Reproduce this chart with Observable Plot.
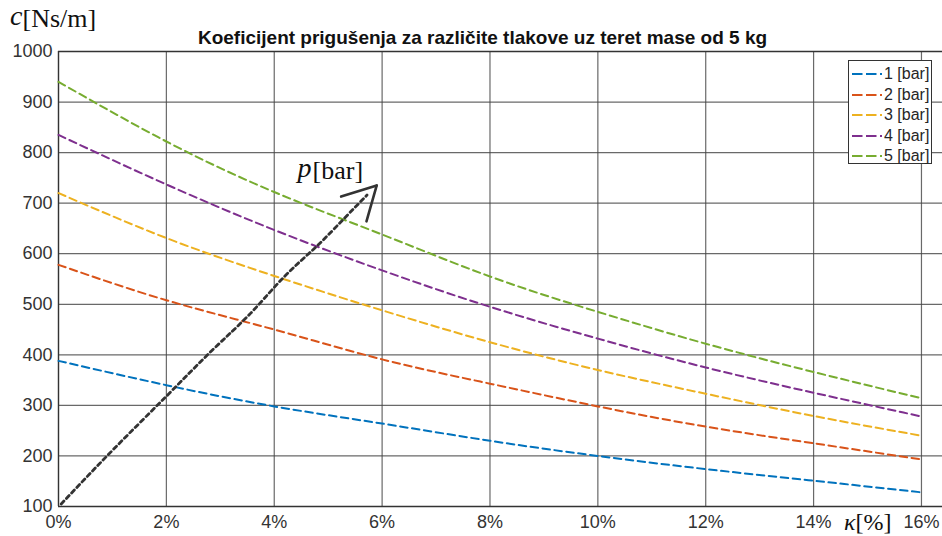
<!DOCTYPE html>
<html>
<head>
<meta charset="utf-8">
<script src="https://cdn.jsdelivr.net/npm/d3@7"></script>
<script src="https://cdn.jsdelivr.net/npm/@observablehq/plot@0.6"></script>
<style>
  html, body { margin: 0; padding: 0; background: #fff; }
  #wrap { position: relative; width: 942px; height: 536px; overflow: hidden; }
  #legend { position: absolute; left: 848px; top: 60px; width: 84px; height: 104px; border: 1px solid #333; background: #fff; box-sizing: border-box; font-family: "Liberation Sans", Arial, sans-serif; font-size: 16px; color: #262626; }
  #legend .row { position: absolute; left: 3px; display: flex; align-items: center; height: 20px; white-space: nowrap; }
  #legend svg { margin-right: 2px; }
</style>
</head>
<body>
<div id="wrap"><div id="chart"></div><div id="legend"></div></div>
<script>
const kappa = [0, 2, 4, 6, 8, 10, 12, 14, 16];
const seriesNames = ["1 [bar]", "2 [bar]", "3 [bar]", "4 [bar]", "5 [bar]"];
const seriesColors = ["#0072BD", "#D95319", "#EDB120", "#7E2F8E", "#77AC30"];
const c1 = [388, 340, 298, 264, 230, 200, 174, 151, 128];
const c2 = [578, 508, 450, 391, 343, 298, 258, 225, 193];
const c3 = [720, 631, 556, 488, 425, 370, 323, 279, 240];
const c4 = [835, 737, 647, 567, 495, 432, 375, 325, 278];
const c5 = [940, 822, 722, 638, 555, 485, 422, 366, 314];
const yTicks = [100, 200, 300, 400, 500, 600, 700, 800, 900, 1000];
const xTicks = [0, 2, 4, 6, 8, 10, 12, 14, 16];
// pressure-direction arrow annotation
const arrowX = [0.05, 1, 1.99, 2.85, 3.56, 4.18, 4.77, 5.29, 5.72];
const arrowY = [105, 211, 317, 409, 482, 554, 613, 669, 716];
const arrowTip = {x: 5.9, y: 735};
const arrowArmA = {x: 5.24, y: 713};
const arrowArmB = {x: 5.71, y: 664};
const pLabel = {x: 4.71, y: 765};

const titleText = "Koeficijent prigušenja za različite tlakove uz teret mase od 5 kg";

const allSeries = [c1, c2, c3, c4, c5];
const rows = [];
allSeries.forEach((vals, i) => vals.forEach((v, j) => rows.push({k: kappa[j], c: v, s: seriesNames[i]})));
const arrowRows = arrowX.map((x, i) => ({x, y: arrowY[i]}));
const arms = [
  {x1: arrowArmA.x, y1: arrowArmA.y, x2: arrowTip.x, y2: arrowTip.y},
  {x1: arrowArmB.x, y1: arrowArmB.y, x2: arrowTip.x, y2: arrowTip.y}
];

const font = "'Liberation Sans', Arial, sans-serif";
const serif = "'Liberation Serif', 'DejaVu Serif', serif";
const plot = Plot.plot({
  width: 942,
  height: 536,
  marginLeft: 58,
  marginRight: 0,
  marginTop: 51,
  marginBottom: 30,
  style: {fontFamily: font, fontSize: "18px", color: "#262626", background: "#fff", overflow: "visible"},
  x: {domain: [0, 16.39], label: null},
  y: {domain: [100, 1000], label: null},
  color: {domain: seriesNames, range: seriesColors},
  marks: [
    Plot.gridX(xTicks, {stroke: "#444", strokeOpacity: 0.8, strokeWidth: 1.2}),
    Plot.gridY(yTicks, {stroke: "#444", strokeOpacity: 0.8, strokeWidth: 1.2}),
    Plot.ruleY([100], {stroke: "#333", strokeWidth: 1.3}),
    Plot.ruleY([1000], {stroke: "#333", strokeWidth: 1.3}),
    Plot.ruleX([0], {stroke: "#333", strokeWidth: 1.3}),
    Plot.axisX(xTicks, {tickFormat: d => d + "%", tickSize: 0, tickPadding: 9, fontSize: 18, fill: "#333", label: null}),
    Plot.axisY(yTicks, {tickFormat: d => String(d), tickSize: 0, tickPadding: 6, fontSize: 18, fill: "#333", label: null}),
    Plot.line(rows, {x: "k", y: "c", z: "s", stroke: "s", strokeWidth: 2, strokeDasharray: "7.5,4.5", curve: "natural"}),
    Plot.line(arrowRows, {x: "x", y: "y", stroke: "#333", strokeWidth: 2.8, strokeDasharray: "4,3.6", curve: "natural"}),
    Plot.link(arms, {x1: "x1", y1: "y1", x2: "x2", y2: "y2", stroke: "#333", strokeWidth: 2.6, strokeLinecap: "round"}),
    Plot.text([pLabel], {x: "x", y: "y", text: () => "[bar]", textAnchor: "start", lineAnchor: "middle", fontFamily: serif, fontSize: 26, fill: "#111"}),
    Plot.text([pLabel], {x: "x", y: "y", text: () => "p", textAnchor: "end", lineAnchor: "middle", fontFamily: serif, fontStyle: "italic", fontSize: 28, fill: "#111", dx: -1, dy: -2}),
    Plot.text([titleText], {frameAnchor: "top", text: d => d, lineAnchor: "middle", dy: -14, dx: -18, fontWeight: "bold", fontSize: 19, fill: "#111"}),
    Plot.text(["[Ns/m]"], {frameAnchor: "top-left", text: d => d, lineAnchor: "middle", dx: -36, dy: -33, textAnchor: "start", fontFamily: serif, fontSize: 26, fill: "#111"}),
    Plot.text(["c"], {frameAnchor: "top-left", text: d => d, lineAnchor: "middle", dx: -36, dy: -35, textAnchor: "end", fontFamily: serif, fontStyle: "italic", fontSize: 28, fill: "#111"}),
    Plot.text(["[%]"], {frameAnchor: "bottom-right", text: d => d, lineAnchor: "middle", dx: -87, dy: 16, textAnchor: "start", fontFamily: serif, fontSize: 24, fill: "#111"}),
    Plot.text(["κ"], {frameAnchor: "bottom-right", text: d => d, lineAnchor: "middle", dx: -87, dy: 16, textAnchor: "end", fontFamily: serif, fontStyle: "italic", fontSize: 24, fill: "#111"})
  ]
});
document.getElementById("chart").appendChild(plot);

const legend = document.getElementById("legend");
seriesNames.forEach((name, i) => {
  const row = document.createElement("div");
  row.className = "row";
  row.style.top = (3 + i * 20.5) + "px";
  row.innerHTML = `<svg width="30" height="6"><line x1="0" y1="3" x2="30" y2="3" stroke="${seriesColors[i]}" stroke-width="2" stroke-dasharray="10.5,3.5"/></svg><span>${name}</span>`;
  legend.appendChild(row);
});
</script>
</body>
</html>
